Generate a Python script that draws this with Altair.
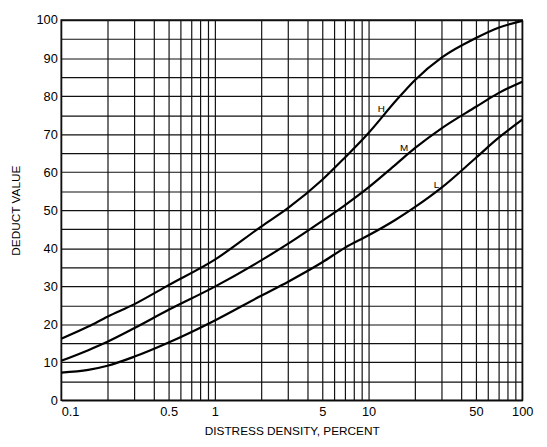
import altair as alt
import pandas as pd

density = [0.1, 0.15, 0.2, 0.3, 0.5, 1, 2, 3, 5, 7, 10, 15, 20, 30, 50, 70, 100]
h_vals = [16.2, 19.4, 22.0, 25.3, 30.3, 37.0, 45.7, 50.6, 58.0, 63.8, 70.3, 78.7, 84.2, 90.2, 95.3, 98.0, 99.8]
m_vals = [10.4, 13.2, 15.4, 19.0, 23.8, 29.9, 36.8, 41.2, 47.2, 51.3, 56.0, 62.0, 66.3, 71.6, 77.2, 80.8, 83.8]
l_vals = [7.3, 8.0, 9.1, 11.5, 15.2, 21.0, 27.5, 31.2, 36.3, 40.1, 43.4, 47.5, 50.8, 56.0, 63.8, 69.0, 73.8]

label_names = ["H", "M", "L"]
label_x = [12.1, 17.0, 27.7]
label_y = [76.7, 66.3, 56.5]

x_grid = [0.1, 0.2, 0.3, 0.4, 0.5, 0.6, 0.7, 0.8, 0.9,
          1, 2, 3, 4, 5, 6, 7, 8, 9,
          10, 20, 30, 40, 50, 60, 70, 80, 90, 100]
x_labels = [0.1, 0.5, 1, 5, 10, 50, 100]
y_grid = list(range(0, 101, 5))

rows = []
for name, vals in (("H", h_vals), ("M", m_vals), ("L", l_vals)):
    for x, y in zip(density, vals):
        rows.append({"severity": name, "density": x, "deduct": y})
df = pd.DataFrame(rows)
lab_df = pd.DataFrame({"name": label_names, "density": label_x, "deduct": label_y})

FONT = "Liberation Sans"
x_scale = alt.Scale(type="log", domain=[0.1, 100], nice=False)
y_scale = alt.Scale(domain=[0, 100], nice=False, zero=False)

label_list = "[" + ",".join(str(v) for v in x_labels) + "]"

x_axis = alt.Axis(
    values=x_grid,
    format="~g",
    labelExpr=f"indexof({label_list}, datum.value) >= 0 ? datum.label : ''",
    title="DISTRESS DENSITY, PERCENT",
    grid=True, gridColor="#111111", gridWidth=1.2, gridOpacity=1,
    ticks=False, domain=False, labelOverlap=False,
    labelFont=FONT, labelFontSize=13, labelColor="black", labelPadding=5,
    labelAlign={"condition": {"test": "datum.value <= 0.1", "value": "left"}, "value": "center"},
    titleFont=FONT, titleFontSize=12, titleFontWeight="normal", titleColor="black", titlePadding=8,
)
y_axis = alt.Axis(
    values=y_grid,
    labelExpr="datum.value % 10 == 0 ? datum.label : ''",
    title="DEDUCT VALUE",
    grid=True, gridColor="#111111", gridWidth=1.2, gridOpacity=1,
    ticks=False, domain=False, labelOverlap=False,
    labelFont=FONT, labelFontSize=13, labelColor="black", labelPadding=4,
    titleFont=FONT, titleFontSize=12, titleFontWeight="normal", titleColor="black", titlePadding=14,
)

lines = alt.Chart(df).mark_line(color="black", strokeWidth=2.2, interpolate="monotone").encode(
    x=alt.X("density:Q", scale=x_scale, axis=x_axis),
    y=alt.Y("deduct:Q", scale=y_scale, axis=y_axis),
    detail="severity:N",
)

labels = alt.Chart(lab_df).mark_text(
    font=FONT, fontSize=10, color="black", align="center", baseline="middle"
).encode(
    x=alt.X("density:Q", scale=x_scale, axis=x_axis),
    y=alt.Y("deduct:Q", scale=y_scale, axis=y_axis),
    text="name:N",
)

chart = alt.layer(lines, labels).properties(
    width=468, height=386,
    padding={"left": 54, "top": 9, "right": 17, "bottom": 36},
    autosize=alt.AutoSizeParams(type="none"),
    background="white",
).configure_view(stroke="black", strokeWidth=1.5)

chart.save("out.html", embed_options={"renderer": "svg", "actions": False})
